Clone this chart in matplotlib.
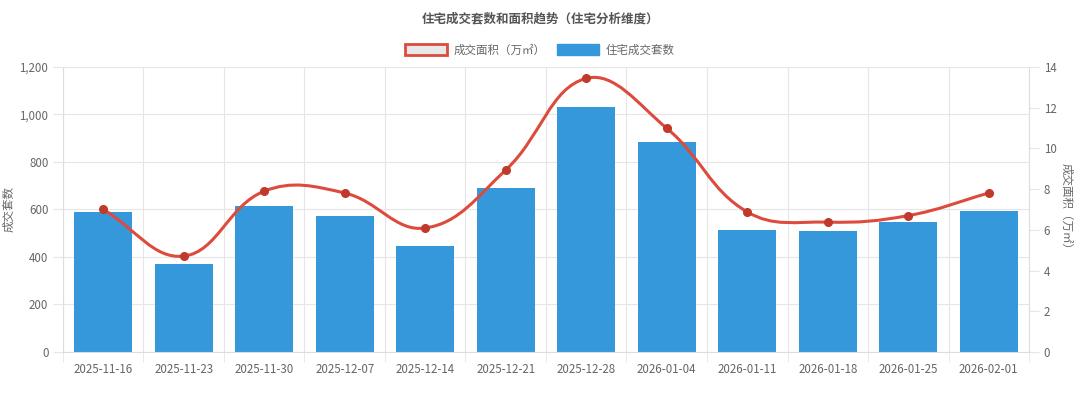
import numpy as np
import matplotlib.pyplot as plt
from matplotlib.patches import Patch
from matplotlib.path import Path
from matplotlib.patches import PathPatch

plt.rcParams['font.family'] = ['Noto Sans CJK SC', 'DejaVu Sans']

weeks = ['2025-11-16', '2025-11-23', '2025-11-30', '2025-12-07', '2025-12-14', '2025-12-21',
         '2025-12-28', '2026-01-04', '2026-01-11', '2026-01-18', '2026-01-25', '2026-02-01']
units = [590, 370, 615, 573, 446, 690, 1032, 885, 514, 510, 546, 595]
area = [7.0, 4.71, 7.9, 7.81, 6.09, 8.94, 13.44, 10.99, 6.88, 6.38, 6.7, 7.81]

bar_color = '#3498db'
line_color = '#dc4b3c'
point_color = '#c0392b'
grid_color = '#e6e6e6'
text_color = '#666666'

fig = plt.figure(figsize=(10.8, 3.94), dpi=100)
ax = fig.add_axes([0.0583, 0.1066, 0.8945, 0.7234])
ax2 = ax.twinx()

x = np.arange(len(weeks))
ax.bar(x, units, width=0.72, color=bar_color, zorder=2)
ax.set_xlim(-0.5, len(weeks) - 0.5)
ax.set_ylim(0, 1200)
ax.set_yticks(range(0, 1201, 200))
ax.set_yticklabels([f'{v:,}' for v in range(0, 1201, 200)])
ax.set_xticks(x)
ax.set_xticklabels(weeks)
ax.set_xticks(np.arange(-0.5, len(weeks)), minor=True)
ax.tick_params(axis='x', which='major', length=0, pad=8, labelsize=8.3, labelcolor=text_color)
ax.tick_params(axis='x', which='minor', length=7, color=grid_color)
ax.tick_params(axis='y', length=7, color=grid_color, labelsize=8.3, labelcolor=text_color)
ax.grid(axis='y', color=grid_color, lw=0.8, zorder=0)
ax.grid(axis='x', which='minor', color=grid_color, lw=0.8, zorder=0)
ax.set_axisbelow(True)
for s in ['top', 'right']:
    ax.spines[s].set_visible(False)
ax.spines['left'].set_color('#dddddd')
ax.spines['bottom'].set_color('#dddddd')
ax.set_ylabel('成交套数', fontsize=8.3, color=text_color, labelpad=3)

ax2.set_ylim(0, 14)
ax2.set_yticks(range(0, 15, 2))
ax2.tick_params(axis='y', length=7, color=grid_color, labelsize=8.3, labelcolor=text_color)
for s in ['top', 'left', 'bottom']:
    ax2.spines[s].set_visible(False)
ax2.spines['right'].set_color('#dddddd')
ax2.set_ylabel('成交面积（万㎡）', fontsize=8.3, color=text_color, rotation=-90, labelpad=12)

# smooth line like chart.js tension 0.4, computed in pixel space
fig.canvas.draw()
pts = ax2.transData.transform(np.column_stack([x, area]))
t = 0.4
cps = []
for i in range(len(pts)):
    prev = pts[max(i - 1, 0)]
    cur = pts[i]
    nxt = pts[min(i + 1, len(pts) - 1)]
    d01 = np.hypot(*(cur - prev))
    d12 = np.hypot(*(nxt - cur))
    tot = d01 + d12 if d01 + d12 > 0 else 1
    fa = t * d01 / tot
    fb = t * d12 / tot
    cps.append((cur - fa * (nxt - prev), cur + fb * (nxt - prev)))
verts = [pts[0]]
codes = [Path.MOVETO]
for i in range(len(pts) - 1):
    verts += [cps[i][1], cps[i + 1][0], pts[i + 1]]
    codes += [Path.CURVE4] * 3
inv = ax2.transData.inverted()
verts = inv.transform(np.array(verts))
ax2.add_patch(PathPatch(Path(verts, codes), fill=False, edgecolor=line_color, lw=2.2, zorder=3))
ax2.plot(x, area, 'o', color=point_color, ms=5.5, zorder=4)

fig.text(0.5, 0.952, '住宅成交套数和面积趋势（住宅分析维度）', ha='center', va='center',
         fontsize=9, fontweight='bold', color='#555555')

handles = [Patch(facecolor='#e8e8e8', edgecolor=line_color, lw=2, label='成交面积（万㎡）'),
           Patch(facecolor=bar_color, edgecolor=bar_color, label='住宅成交套数')]
fig.legend(handles=handles, loc='center', bbox_to_anchor=(0.5, 0.873), ncol=2, frameon=False,
           fontsize=8.3, handlelength=3.6, handleheight=1.0, columnspacing=1.0,
           labelcolor=text_color, handletextpad=0.6)

fig.savefig('out.png', dpi=100)
